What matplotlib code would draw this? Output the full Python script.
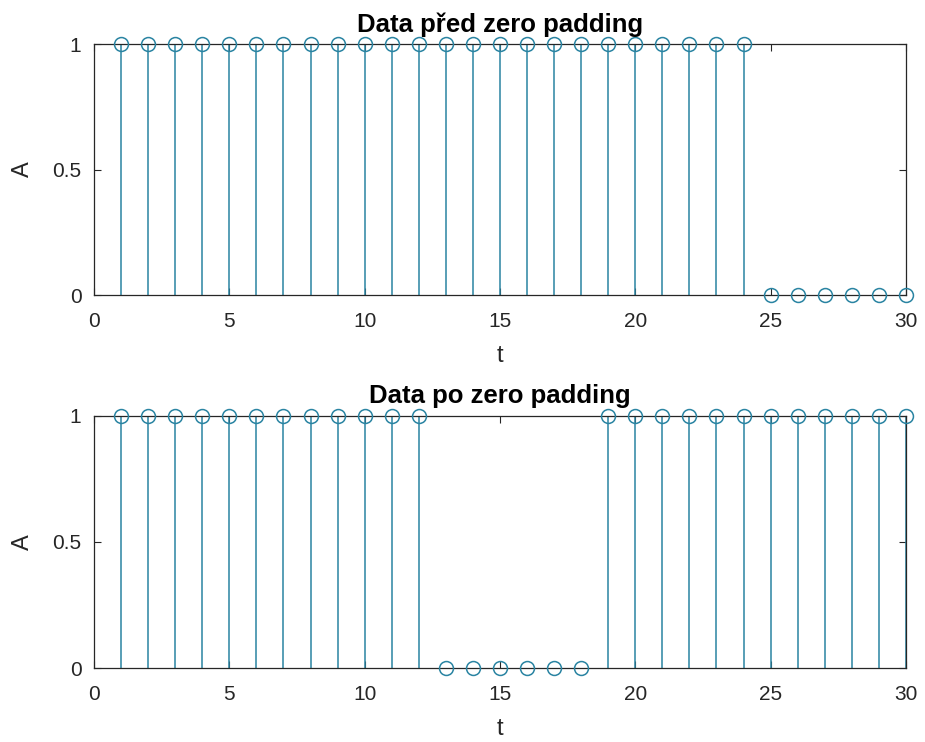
import numpy as np
import matplotlib.pyplot as plt

plt.rcParams['font.family'] = ['Liberation Sans', 'DejaVu Sans']

# signal before and after zero padding
t = list(range(1, 31))
data_before = [1] * 24 + [0] * 6
data_after = [1] * 12 + [0] * 6 + [1] * 12

titles = ['Data před zero padding', 'Data po zero padding']
x_ticks = [0, 5, 10, 15, 20, 25, 30]
y_ticks = [0, 0.5, 1]
y_tick_labels = ['0', '0.5', '1']

STEM_COLOR = '#2a84a2'
TEXT_COLOR = '#262626'

fig = plt.figure(figsize=(9.25, 7.42), dpi=100)
ax_top = fig.add_axes([0.1016, 0.6024, 0.8778, 0.3383])
ax_bottom = fig.add_axes([0.1016, 0.0997, 0.8778, 0.3397])

for ax, values, title in zip([ax_top, ax_bottom], [data_before, data_after], titles):
    markerline, stemlines, baseline = ax.stem(t, values, basefmt=' ')
    plt.setp(stemlines, color=STEM_COLOR, linewidth=1.1)
    plt.setp(markerline, color=STEM_COLOR, markerfacecolor='none', markersize=10,
             markeredgewidth=1.1, clip_on=False, zorder=3)
    stemlines.set_clip_on(False)

    ax.set_xlim(0, 30)
    ax.set_ylim(0, 1)
    ax.set_xticks(x_ticks)
    ax.set_yticks(y_ticks)
    ax.set_yticklabels(y_tick_labels)
    ax.tick_params(direction='in', length=5, width=0.8, top=True, right=True,
                   labelsize=15, labelcolor=TEXT_COLOR, color=TEXT_COLOR)
    ax.tick_params(axis='x', pad=12)
    ax.tick_params(axis='y', pad=9)
    for spine in ax.spines.values():
        spine.set_linewidth(0.9)
        spine.set_color(TEXT_COLOR)
        spine.set_zorder(2)

    ax.set_xlabel('t', fontsize=17, color=TEXT_COLOR, labelpad=10)
    ax.set_ylabel('A', fontsize=17, color=TEXT_COLOR, labelpad=13)
    ax.set_title(title, fontsize=18.5, fontweight='bold', color='black', pad=9)

plt.savefig('out.png', dpi=100)
